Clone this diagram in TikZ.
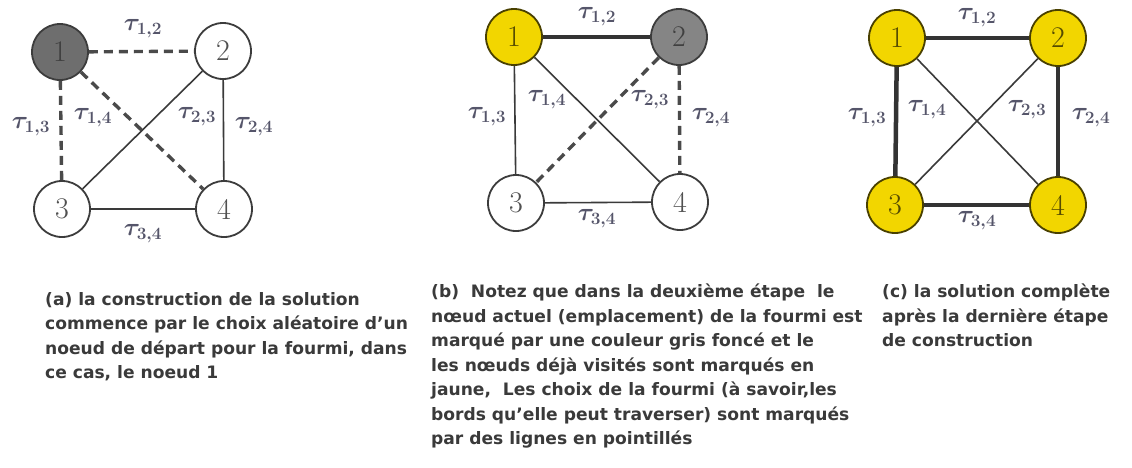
\documentclass[tikz,border=0pt]{standalone}
\usepackage{fontspec}
\setsansfont{DejaVu Sans}
\definecolor{edgec}{HTML}{3A3A3A}
\definecolor{dashc}{HTML}{4A4A4A}
\definecolor{nodeb}{HTML}{3C3C3C}
\definecolor{yel}{HTML}{F2D600}
\definecolor{dgray}{HTML}{6E6E6E}
\definecolor{mgray}{HTML}{858585}
\definecolor{labc}{HTML}{55556A}
\definecolor{captc}{HTML}{3A3A3A}
\tikzset{
  vtx/.style={circle, draw=nodeb, line width=1.8pt, minimum size=56pt, inner sep=0pt, fill=white,
    text=nodeb!90, font=\fontsize{30}{34}\selectfont},
  vyel/.style={vtx, fill=yel, draw=black!70!yel, text=black!65!yel},
  vcur/.style={vtx, fill=#1, text=black!75},
  thin edge/.style={draw=edgec, line width=1.6pt},
  dash edge/.style={draw=dashc, line width=3.4pt, dash pattern=on 9pt off 6pt},
  thick edge/.style={draw=black!80, line width=4.5pt},
  tlab/.style={text=labc, inner sep=0pt, font=\fontsize{26}{30}\selectfont\boldmath},
  capt/.style={anchor=north west, align=left, inner sep=0pt, text=captc,
    font=\sffamily\bfseries\fontsize{17.1}{24.5}\selectfont}
}
\begin{document}
\begin{tikzpicture}[x=1pt, y=-1pt]
\useasboundingbox[fill=white] (0,0) rectangle (1132,467);
% ---------- panel (a)
\node[vcur=dgray] (a1) at (60,52) {1};
\node[vtx] (a2) at (223,51) {2};
\node[vtx] (a3) at (62,209) {3};
\node[vtx] (a4) at (224,209) {4};
\draw[thin edge] (a2) -- (a3);
\draw[thin edge] (a2) -- (a4);
\draw[thin edge] (a3) -- (a4);
\draw[dash edge] (a1) -- (a2);
\draw[dash edge] (a1) -- (a3);
\draw[dash edge] (a1) -- (a4);
\node[tlab] (a12) at (143,29) {$\tau_{1,2}$};
\node[tlab] (a13) at (31,127) {$\tau_{1,3}$};
\node[tlab] (a14) at (93,118) {$\tau_{1,4}$};
\node[tlab] (a23) at (197,117) {$\tau_{2,3}$};
\node[tlab] (a24) at (254,127) {$\tau_{2,4}$};
\node[tlab] (a34) at (143,234) {$\tau_{3,4}$};
% ---------- panel (b)
\node[vyel] (b1) at (514,37) {1};
\node[vcur=mgray] (b2) at (679,37) {2};
\node[vtx] (b3) at (516,203) {3};
\node[vtx] (b4) at (680,202) {4};
\draw[thick edge] (b1) -- (b2);
\draw[thin edge] (b1) -- (b3);
\draw[thin edge] (b1) -- (b4);
\draw[thin edge] (b3) -- (b4);
\draw[dash edge] (b2) -- (b3);
\draw[dash edge] (b2) -- (b4);
\node[tlab] (b12) at (597,17) {$\tau_{1,2}$};
\node[tlab] (b13) at (487,117) {$\tau_{1,3}$};
\node[tlab] (b14) at (547,100) {$\tau_{1,4}$};
\node[tlab] (b23) at (650,100) {$\tau_{2,3}$};
\node[tlab] (b24) at (711,118) {$\tau_{2,4}$};
\node[tlab] (b34) at (597,219) {$\tau_{3,4}$};
% ---------- panel (c)
\node[vyel] (c1) at (897,38) {1};
\node[vyel] (c2) at (1058,38) {2};
\node[vyel] (c3) at (895,205) {3};
\node[vyel] (c4) at (1058,205) {4};
\draw[thick edge] (c1) -- (c2);
\draw[thick edge] (c1) -- (c3);
\draw[thick edge] (c2) -- (c4);
\draw[thick edge] (c3) -- (c4);
\draw[thin edge] (c1) -- (c4);
\draw[thin edge] (c2) -- (c3);
\node[tlab] (c12) at (977,18) {$\tau_{1,2}$};
\node[tlab] (c13) at (867,118) {$\tau_{1,3}$};
\node[tlab] (c14) at (927,110) {$\tau_{1,4}$};
\node[tlab] (c23) at (1027,110) {$\tau_{2,3}$};
\node[tlab] (c24) at (1091,118) {$\tau_{2,4}$};
\node[tlab] (c34) at (977,221) {$\tau_{3,4}$};
% ---------- captions
\node[capt] (capa) at (45,292) {(a) la construction de la solution\\
commence par le choix aléatoire d'un\\
noeud de départ pour la fourmi, dans\\
ce cas, le noeud 1};
\node[capt] (capb) at (431,284) {(b)\ \ Notez que dans la deuxième étape\ \ le\\
nœud actuel (emplacement) de la fourmi est\\
marqué par une couleur gris foncé et le\\
les nœuds déjà visités sont marqués en\\
jaune,\ \ Les choix de la fourmi (à savoir,les\\
bords qu'elle peut traverser) sont marqués\\
par des lignes en pointillés};
\node[capt] (capc) at (882,284) {(c) la solution complète\\
après la dernière étape\\
de construction};
\end{tikzpicture}
\end{document}
